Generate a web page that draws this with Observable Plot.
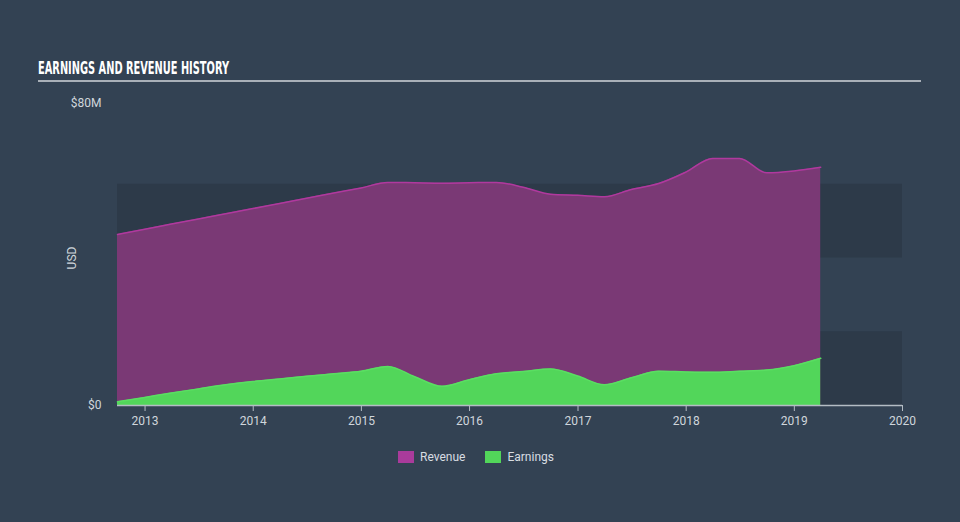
<!DOCTYPE html>
<html><head><meta charset="utf-8">
<script src="https://cdn.jsdelivr.net/npm/d3@7"></script>
<script src="https://cdn.jsdelivr.net/npm/@observablehq/plot@0.6"></script>
<style>
body{margin:0;background:#334253;width:960px;height:522px;overflow:hidden;position:relative;font-family:Roboto,"Open Sans",sans-serif;}
#title{position:absolute;left:38px;top:58px;color:#fff;font-weight:bold;font-size:17px;font-family:"DejaVu Sans Condensed","DejaVu Sans",sans-serif;transform-origin:0 0;white-space:nowrap;line-height:20px}
#rule{position:absolute;left:38px;top:80px;width:883px;height:2px;background:#a9b0b8}
#chart{position:absolute;left:0;top:90px}
#legend{position:absolute;top:450px;left:-4px;width:960px;display:flex;justify-content:center;gap:20px;color:#d8dde2;font-size:12px;font-family:Roboto,sans-serif}
#legend span{display:inline-flex;align-items:center}
#legend i{display:inline-block;width:16px;height:12px;margin-right:6px}
</style>
</head><body>
<div id="title">EARNINGS AND REVENUE HISTORY</div>
<div id="rule"></div>
<div id="chart"></div>
<div id="legend"></div>
<script>
const dates = ["2012-09-30","2012-12-31","2013-03-31","2013-06-30","2013-09-30","2013-12-31","2014-03-31","2014-06-30","2014-09-30","2014-12-31","2015-03-31","2015-06-30","2015-09-30","2015-12-31","2016-03-31","2016-06-30","2016-09-30","2016-12-31","2017-03-31","2017-06-30","2017-09-30","2017-12-31","2018-03-31","2018-06-30","2018-09-30","2018-12-31","2019-03-31"];
const revenue = [46.4,47.8,49.2,50.6,52.0,53.4,54.8,56.2,57.6,59.0,60.5,60.4,60.3,60.4,60.5,59.2,57.3,57.0,56.6,58.6,60.2,63.3,67.0,67.0,63.1,63.6,64.6];
const earnings = [1.0,2.2,3.4,4.5,5.6,6.5,7.2,7.9,8.6,9.3,10.6,7.8,5.2,7.0,8.6,9.2,9.9,8.0,5.6,7.5,9.3,9.1,9.0,9.3,9.6,10.8,12.8];
const seriesNames = ["Revenue","Earnings"];
const seriesColors = ["#a93b9b","#52d65a"];
const yTicks = [0,80];
const yTickLabels = ["$0","$80M"];
const xTickYears = [2013,2014,2015,2016,2017,2018,2019,2020];
const bandRanges = [[0,20],[40,60]];

const data = dates.map((d,i)=>({date:new Date(d), revenue:revenue[i], earnings:earnings[i]}));
const bands = bandRanges.map(([a,b])=>({a,b}));
const xStart = new Date(dates[0]);
const xEnd = new Date("2020-01-01");
const xTicks = xTickYears.map(y=>new Date(Date.UTC(y,0,1)));

const chart = Plot.plot({
  width:960, height:350,
  marginLeft:117, marginRight:58, marginTop:20, marginBottom:35,
  style:{background:"transparent", fontFamily:"Roboto, sans-serif", fontSize:"12px", color:"#d0d6dc"},
  x:{type:"utc", domain:[xStart,xEnd], axis:null},
  y:{domain:[0,80], axis:null},
  marks:[
    Plot.rect(bands,{x1:xStart,x2:xEnd,y1:"a",y2:"b",fill:"#2d3a49"}),
    Plot.areaY(data,{x:"date",y:"revenue",fill:"#7a3975",curve:"monotone-x"}),
    Plot.lineY(data,{x:"date",y:"revenue",stroke:"#b0399e",strokeWidth:1.5,curve:"monotone-x"}),
    Plot.areaY(data,{x:"date",y:"earnings",fill:"#52d65a",curve:"monotone-x"}),
    Plot.lineY(data,{x:"date",y:"earnings",stroke:"#5ade62",strokeWidth:1.5,curve:"monotone-x"}),
    Plot.ruleY([0],{x1:xStart,x2:xEnd,stroke:"#b4bcc4",strokeWidth:1.5}),
    Plot.axisX({ticks:xTicks,tickFormat:"%Y",tickSize:6,stroke:"#b4bcc4",fill:"#d0d6dc",fontSize:12,tickPadding:5,anchor:"bottom"}),
    Plot.text([0],{x:xStart,y:d=>d,text:d=>yTickLabels[yTicks.indexOf(d)],textAnchor:"end",dx:-16,fill:"#d0d6dc",fontSize:12}),
    Plot.text([80],{x:xStart,y:d=>d,text:d=>yTickLabels[yTicks.indexOf(d)],textAnchor:"end",dx:-16,dy:-7,fill:"#d0d6dc",fontSize:12}),
    Plot.text(["USD"],{x:xStart,y:40,text:d=>d,rotate:-90,dx:-45,fill:"#d0d6dc",fontSize:12})
  ]
});
document.getElementById("chart").appendChild(chart);

const leg = document.getElementById("legend");
seriesNames.forEach((n,i)=>{
  const s=document.createElement("span");
  s.innerHTML=`<i style="background:${seriesColors[i]}"></i>${n}`;
  leg.appendChild(s);
});
const t=document.getElementById("title");
const w=t.getBoundingClientRect().width;
t.style.transform=`scale(${191/w},1)`;
</script>
</body></html>
